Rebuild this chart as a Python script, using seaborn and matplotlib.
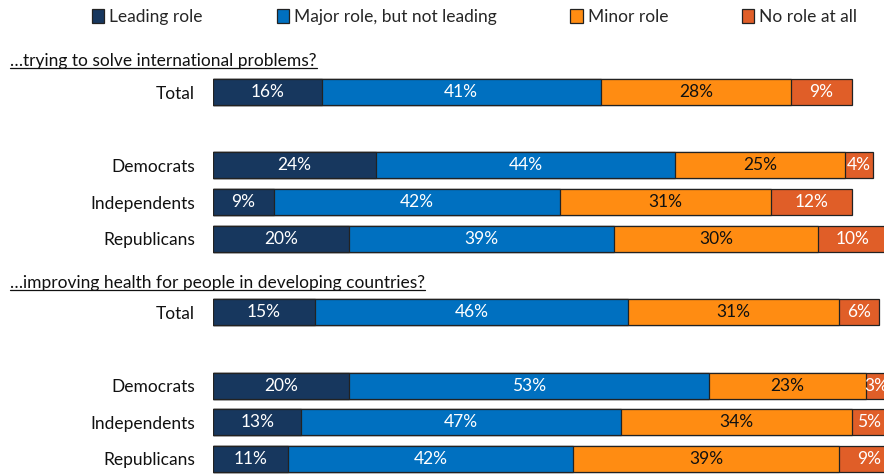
import matplotlib
matplotlib.use("Agg")
import matplotlib.pyplot as plt
from matplotlib.patches import Patch
from matplotlib.lines import Line2D
import seaborn as sns
import pandas as pd
import numpy as np

sns.set_theme(style="white")
plt.rcParams['font.family'] = ['Lato', 'DejaVu Sans']

roles = ["Leading role", "Major role, but not leading", "Minor role", "No role at all"]
colors = ["#17375E", "#0070C0", "#FF8C12", "#E05E28"]
text_colors = ["white", "white", "#111111", "white"]

groups = ["Total", "Democrats", "Independents", "Republicans",
          "Total", "Democrats", "Independents", "Republicans"]
row_pos = [0, 2, 3, 4, 6, 8, 9, 10]
headers = ["\u2026trying to solve international problems?",
           "\u2026improving health for people in developing countries?"]
header_pos = [-0.85, 5.2]

leading = [16, 24, 9, 20, 15, 20, 13, 11]
major = [41, 44, 42, 39, 46, 53, 47, 42]
minor = [28, 25, 31, 30, 31, 23, 34, 39]
norole = [9, 4, 12, 10, 6, 3, 5, 9]

values = np.array([leading, major, minor, norole])
cum = values.cumsum(axis=0)

W, H = 884, 475
fig = plt.figure(figsize=(W / 100, H / 100), dpi=100)
ax = fig.add_axes([213 / W, 0, (W - 213) / W, 1])

fs = 12.5
for i in range(len(roles) - 1, -1, -1):
    df = pd.DataFrame({"x": cum[i], "y": row_pos})
    sns.barplot(data=df, x="x", y="y", orient="h", native_scale=True,
                color=colors[i], saturation=1, width=0.71, errorbar=None,
                edgecolor="#222222", linewidth=0.9, ax=ax)

for i in range(len(roles)):
    for j, p in enumerate(row_pos):
        v = values[i, j]
        ax.text(cum[i, j] - v / 2, p, f"{v}%", ha="center", va="center",
                color=text_colors[i], fontsize=fs, clip_on=True)

ax.set_xlim(0, (W - 213) / 6.8)
ax.set_ylim(10.436, -2.507)
ax.set_yticks(row_pos)
ax.set_yticklabels(groups, fontsize=fs, color="#111111")
ax.tick_params(axis="y", length=0, pad=13)
ax.set_xticks([])
ax.set_xlabel("")
ax.set_ylabel("")
for s in ax.spines.values():
    s.set_visible(False)
ax.patch.set_alpha(0)

htexts = []
for h, hp in zip(headers, header_pos):
    t = fig.text(10 / W, 0, h, fontsize=fs, color="#111111", ha="left", va="center")
    ydisp = ax.transData.transform((0, hp))[1]
    t.set_position((10 / W, ydisp / H))
    htexts.append(t)

handles = [Patch(facecolor=c, edgecolor="#222222", linewidth=0.9) for c in colors]
fig.legend(handles, roles, loc="center", bbox_to_anchor=(0.537, 1 - 17 / H), ncol=4,
           frameon=False, fontsize=fs, handlelength=0.7, handleheight=0.9,
           handletextpad=0.3, columnspacing=4.25)

fig.canvas.draw()
r = fig.canvas.get_renderer()
for t in htexts:
    bb = t.get_window_extent(r)
    yline = bb.y0 + 1
    fig.add_artist(Line2D([bb.x0, bb.x1], [yline, yline], transform=None,
                          color="#111111", linewidth=0.9))

fig.savefig("out.png", dpi=100)
